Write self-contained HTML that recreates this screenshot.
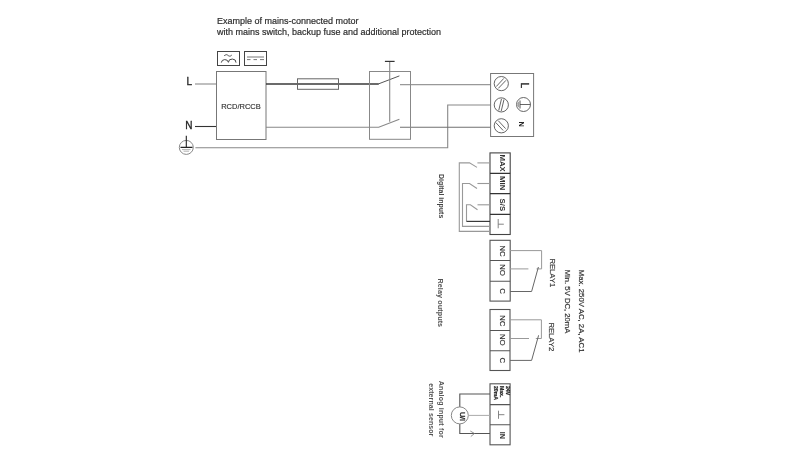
<!DOCTYPE html>
<html><head><meta charset="utf-8">
<style>
html,body{margin:0;padding:0;background:#fff;width:800px;height:465px;overflow:hidden}
svg{display:block;will-change:transform}
text{font-family:"Liberation Sans",sans-serif}
</style></head>
<body>
<svg width="800" height="465" viewBox="0 0 800 465">
<g fill="#2e2e2e" font-size="9" stroke="#2e2e2e" stroke-width="0.2">
<text x="217" y="23.7">Example of mains-connected motor</text>
<text x="217" y="35.2">with mains switch, backup fuse and additional protection</text>
</g>

<!-- top-left icons -->
<g fill="none" stroke="#444" stroke-width="1">
<rect x="217.5" y="51.5" width="22" height="14"/>
<rect x="244.5" y="51.5" width="22" height="14"/>
</g>
<g fill="none" stroke="#444" stroke-width="1">
<path d="M224.2 56 C225.5 54.2 227 54.4 228 55.4 C229 56.4 230.5 56.6 231.8 55" stroke="#555"/>
<path d="M221.3 62.6 A3.6 3.4 0 0 1 228.4 62.3 A3.8 3.4 0 0 1 236 62.6"/>
<path d="M247 57 h17" stroke="#aaa" stroke-width="1.6"/>
<path d="M247 59.6 h3.5 M253.5 59.6 h3.5 M260 59.6 h4" stroke="#777"/>
</g>

<!-- RCD box -->
<rect x="216.5" y="71.5" width="49.5" height="68" fill="none" stroke="#777" stroke-width="1"/>
<text x="241" y="108.5" font-size="7.5" text-anchor="middle" fill="#333" stroke="#333" stroke-width="0.15">RCD/RCCB</text>

<!-- L N labels -->
<g fill="#1e1e1e" font-size="10" stroke="#1e1e1e" stroke-width="0.3">
<text x="186.6" y="85.2">L</text>
<text x="185.3" y="128.9">N</text>
</g>
<path d="M195 84 h21" stroke="#8a8a8a" stroke-width="1.1"/>
<path d="M195 126.5 h21" stroke="#333" stroke-width="1.1"/>

<!-- earth symbol left -->
<circle cx="186.3" cy="147.4" r="7" fill="none" stroke="#888" stroke-width="1"/>
<path d="M186.3 135.8 V147.4 M180.5 147.4 H192.5" stroke="#222" stroke-width="1.1"/>
<path d="M182 149.6 H190.6 M183.5 151.2 H189.1" stroke="#aaa" stroke-width="0.9"/>

<!-- earth wire -->
<path d="M195.4 147.8 H447.7 V105 H490.6" fill="none" stroke="#888" stroke-width="1.1"/>

<!-- L wire -->
<path d="M266 84 H378.7" fill="none" stroke="#3a3a3a" stroke-width="1.3"/>
<path d="M378.2 84 L399.4 75.9" fill="none" stroke="#555" stroke-width="1"/>
<rect x="297.5" y="78.8" width="41" height="10.5" fill="none" stroke="#666" stroke-width="1"/>
<path d="M400 84.6 H490.6" stroke="#999" stroke-width="1.1"/>

<!-- N wire -->
<path d="M266 127.2 H378.7 L399.4 119.3" fill="none" stroke="#888" stroke-width="1.1"/>
<path d="M400 127.3 H490.6" stroke="#707070" stroke-width="1.1"/>

<!-- switch -->
<rect x="369.5" y="71.5" width="41" height="67.8" fill="none" stroke="#888" stroke-width="1"/>
<path d="M389.7 61.4 V121.8" stroke="#888" stroke-width="1.1"/>
<path d="M384.9 61.4 H394.6" stroke="#333" stroke-width="1.2"/>

<!-- terminal block -->
<rect x="490.6" y="73.5" width="43" height="63" fill="none" stroke="#777" stroke-width="1"/>
<g fill="none" stroke="#555" stroke-width="0.9">
<circle cx="501.3" cy="83.6" r="7.1"/>
<circle cx="501.3" cy="104.9" r="7.1"/>
<circle cx="501.3" cy="125.8" r="7.1"/>
<path d="M496.2 86.6 L503.8 78.4 M498.3 88.4 L506 80.3"/>
<path d="M498.7 110.6 L501.5 98.8 M501.2 111.2 L504 99.4"/>
<path d="M495.8 122.6 L503.2 130.5 M498.2 120.6 L505.6 128.6"/>
<circle cx="523.5" cy="104.5" r="7"/>
<path d="M520 104.5 H530.5" stroke="#555"/>
<path d="M520 100.5 V108.5" stroke="#444"/>
<path d="M518.5 101.8 V107.2 M517.2 103 V106" stroke="#999"/>
</g>
<text transform="translate(520.6,82.6) rotate(90)" font-size="10" fill="#2a2a2a" stroke="#2a2a2a" stroke-width="0.35">L</text>
<text transform="translate(519,121.4) rotate(90)" font-size="7.4" font-weight="bold" fill="#222">N</text>

<!-- digital inputs -->
<g fill="none" stroke="#444" stroke-width="1.1">
<rect x="490" y="152.9" width="20.2" height="81.6"/>
<path d="M490 173.3 H510.2 M490 193.7 H510.2 M490 214.4 H510.2" stroke="#333" stroke-width="1.3"/>
</g>
<g fill="none" stroke="#999" stroke-width="1.1">
<path d="M490 231.4 H459.3 V162.9 H469.5 L477 167.4"/>
<path d="M477.4 162.9 H490"/>
<path d="M490 226.4 H462.5 V183.5 H469.5 L477 188.5"/>
<path d="M477.4 183.5 H490"/>
<path d="M466.5 221.4 V204.8 H470.4 L477.5 209.8"/>
<path d="M477.5 204.8 H490"/>
</g>
<path d="M490 221.4 H466.5" fill="none" stroke="#3a3a3a" stroke-width="1.2"/>
<g fill="#333" font-size="7.8" font-weight="bold">
<text transform="translate(499.6,163.1) rotate(90)" text-anchor="middle">MAX</text>
<text transform="translate(499.6,183.2) rotate(90)" text-anchor="middle">MIN</text>
<text transform="translate(499.6,204.9) rotate(90)" text-anchor="middle">S/S</text>
</g>
<path d="M498.2 219 V228.3 M498.2 224.2 H503.8" stroke="#777" stroke-width="0.9"/>
<text transform="translate(438.8,174) rotate(90)" font-size="7" font-weight="bold" fill="#444">Digital inputs</text>

<!-- relay 1 -->
<g fill="none" stroke="#555" stroke-width="1.1">
<rect x="490" y="240.3" width="20.2" height="60.8"/>
<path d="M490 260.5 H510.2 M490 281.3 H510.2"/>
</g>
<g fill="none" stroke="#999" stroke-width="1">
<path d="M510 250.6 H541.6 V268.9 H536.5"/>
<path d="M510 268.9 H528.4"/>
<path d="M510 291.5 H531.6 L538.4 267" stroke="#666"/>
</g>
<g fill="#333" font-size="7.8" stroke="#333" stroke-width="0.15">
<text transform="translate(499.6,251) rotate(90)" text-anchor="middle">NC</text>
<text transform="translate(499.6,270) rotate(90)" text-anchor="middle">NO</text>
<text transform="translate(499.6,291) rotate(90)" text-anchor="middle">C</text>
</g>
<text transform="translate(549.5,258.4) rotate(90)" font-size="7.7" fill="#333" stroke="#333" stroke-width="0.15">RELAY1</text>

<!-- relay 2 -->
<g fill="none" stroke="#555" stroke-width="1.1">
<rect x="490" y="309.5" width="20" height="61"/>
<path d="M490 330.5 H510 M490 350.8 H510"/>
</g>
<g fill="none" stroke="#999" stroke-width="1">
<path d="M510 319.8 H541.4 V338.5 H535.8"/>
<path d="M510 338.5 H529"/>
<path d="M510 360.4 H531.6 L538.6 335.3" stroke="#666"/>
</g>
<g fill="#333" font-size="7.8" stroke="#333" stroke-width="0.15">
<text transform="translate(499.6,320.8) rotate(90)" text-anchor="middle">NC</text>
<text transform="translate(499.6,339.8) rotate(90)" text-anchor="middle">NO</text>
<text transform="translate(499.6,360.2) rotate(90)" text-anchor="middle">C</text>
</g>
<text transform="translate(549,322.4) rotate(90)" font-size="7.7" fill="#333" stroke="#333" stroke-width="0.15">RELAY2</text>

<text transform="translate(579.2,269.7) rotate(90)" font-size="7.8" fill="#333" stroke="#333" stroke-width="0.2">Max. 250V AC, 2A, AC1</text>
<text transform="translate(565.2,269.7) rotate(90)" font-size="7.7" fill="#333" stroke="#333" stroke-width="0.2">Min. 5V DC, 20mA</text>
<text transform="translate(438.4,278.4) rotate(90)" font-size="7.2" font-weight="bold" fill="#555" letter-spacing="0.1">Relay outputs</text>

<!-- analog -->
<g fill="none" stroke="#555" stroke-width="1.1">
<rect x="490" y="383.8" width="20.1" height="61"/>
<path d="M490 404.6 H510.1 M490 424.7 H510.1"/>
</g>
<path d="M490 394 H459.8 V407 M459.8 424 V433.5 H490" fill="none" stroke="#555" stroke-width="1.1"/>
<circle cx="459.8" cy="415.4" r="8.5" fill="none" stroke="#888" stroke-width="1"/>
<path d="M468.3 415.4 H490" stroke="#aaa" stroke-width="1"/>
<path d="M470.3 431 L474.5 433.5 L470.8 436.5" fill="none" stroke="#777" stroke-width="0.8"/>
<text transform="translate(460,416.5) rotate(90)" font-size="7.2" text-anchor="middle" fill="#222" stroke="#222" stroke-width="0.3">U/I</text>
<path d="M498.5 410.7 V418.8 M498.5 414.7 H504.4" stroke="#777" stroke-width="0.9"/>
<text transform="translate(500.1,435.3) rotate(90)" font-size="7.2" font-weight="bold" text-anchor="middle" fill="#333">IN</text>
<g fill="#222" font-size="5.2" font-weight="bold" stroke="#222" stroke-width="0.2">
<text transform="translate(505.7,385.9) rotate(90)">24V</text>
<text transform="translate(500.2,385.9) rotate(90)">Max.</text>
<text transform="translate(494,385.9) rotate(90)">20mA</text>
</g>
<g font-size="7" font-weight="bold" fill="#555">
<text transform="translate(439,380.7) rotate(90)" letter-spacing="0.2">Analog input for</text>
<text transform="translate(428.6,383.2) rotate(90)" letter-spacing="0.1">external sensor</text>
</g>
</svg>
</body></html>
